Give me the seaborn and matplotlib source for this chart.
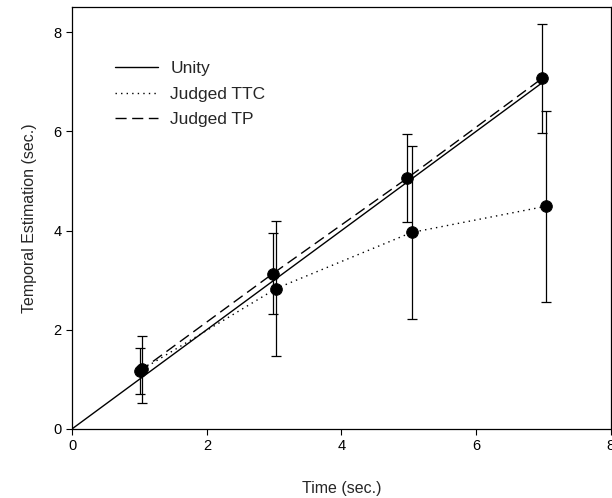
import numpy as np
import pandas as pd
import seaborn as sns
import matplotlib.pyplot as plt

# Data
unity_x = [0, 7]
unity_y = [0, 7]

tp_x = [1.0, 2.98, 4.98, 6.98]
tp_y = [1.16, 3.13, 5.06, 7.07]
tp_err = [0.46, 0.82, 0.88, 1.10]

ttc_x = [1.04, 3.03, 5.04, 7.04]
ttc_y = [1.20, 2.83, 3.96, 4.49]
ttc_err = [0.67, 1.37, 1.75, 1.93]

sns.set_style("ticks")
plt.rcParams['font.family'] = ['Liberation Sans', 'DejaVu Sans']

fig = plt.figure(figsize=(6.12, 4.98), dpi=100)
ax = fig.add_axes([0.118, 0.139, 0.880, 0.846])

df_u = pd.DataFrame({'x': unity_x, 'y': unity_y})
df_ttc = pd.DataFrame({'x': ttc_x, 'y': ttc_y})
df_tp = pd.DataFrame({'x': tp_x, 'y': tp_y})

sns.lineplot(x='x', y='y', data=df_u, ax=ax, color='black', lw=1.0,
             label='Unity')
sns.lineplot(x='x', y='y', data=df_ttc, ax=ax, color='black', lw=1.0,
             linestyle=(0, (1, 3)), label='Judged TTC')
sns.lineplot(x='x', y='y', data=df_tp, ax=ax, color='black', lw=1.0,
             linestyle=(0, (8, 4)), label='Judged TP')

# error bars
ax.errorbar(ttc_x, ttc_y, yerr=ttc_err, fmt='none', ecolor='black',
            elinewidth=0.9, capsize=3.5, capthick=0.9)
ax.errorbar(tp_x, tp_y, yerr=tp_err, fmt='none', ecolor='black',
            elinewidth=0.9, capsize=3.5, capthick=0.9)

sns.scatterplot(x='x', y='y', data=df_ttc, ax=ax, color='black', s=70,
                edgecolor='black', zorder=5, legend=False)
sns.scatterplot(x='x', y='y', data=df_tp, ax=ax, color='black', s=70,
                edgecolor='black', zorder=5, legend=False)

ax.set_xlim(0, 8)
ax.set_ylim(0, 8.5)
ax.set_xticks([0, 2, 4, 6, 8])
ax.set_yticks([0, 2, 4, 6, 8])
ax.tick_params(direction='out', length=4, width=0.8, labelsize=10.5,
               colors='black')
for sp in ax.spines.values():
    sp.set_visible(True)
    sp.set_linewidth(0.9)
    sp.set_color('black')

ax.set_xlabel("Time (sec.)", fontsize=11.5, labelpad=20)
ax.set_ylabel("Temporal Estimation (sec.)", fontsize=11.5, labelpad=12)

ax.legend(loc='upper left', bbox_to_anchor=(0.05, 0.91), frameon=False,
          fontsize=12.5, handlelength=2.5, handletextpad=0.7,
          labelspacing=0.6)

fig.savefig("out.png", dpi=100)
